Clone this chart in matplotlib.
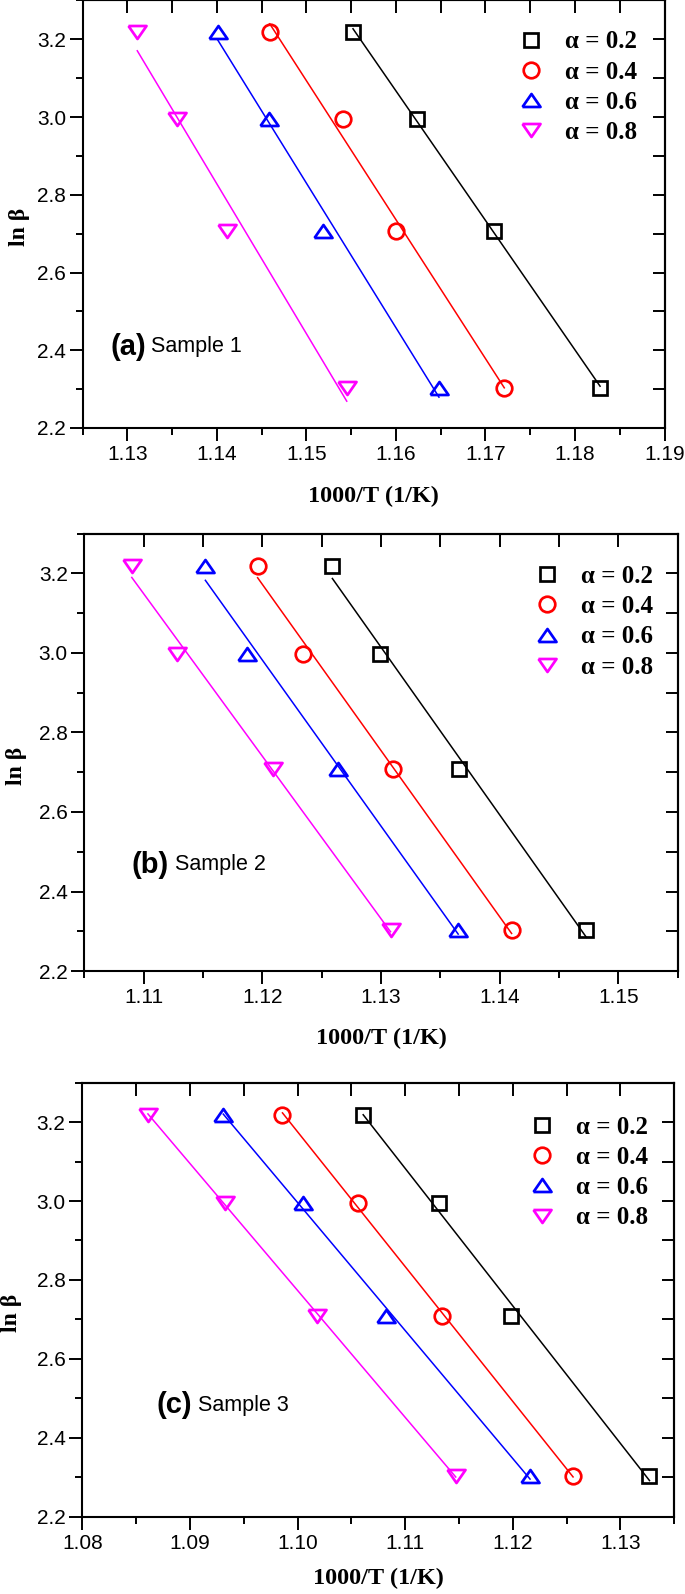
import numpy as np
import matplotlib
matplotlib.use("Agg")
import matplotlib.pyplot as plt
from matplotlib.ticker import MultipleLocator, FormatStrFormatter

# ln(beta) for the four heating rates (same for every sample)
ln_beta = [3.219, 2.996, 2.708, 2.303]

alpha_labels = ["\u03b1 = 0.2", "\u03b1 = 0.4", "\u03b1 = 0.6", "\u03b1 = 0.8"]

# 1000/T values, one list per conversion degree
s1_a02 = [1.1552, 1.1624, 1.1709, 1.1828]
s1_a04 = [1.1459, 1.1541, 1.1600, 1.1721]
s1_a06 = [1.1401, 1.1458, 1.1518, 1.1648]
s1_a08 = [1.1311, 1.1355, 1.1411, 1.1545]

s2_a02 = [1.1259, 1.1299, 1.1366, 1.1473]
s2_a04 = [1.1196, 1.1234, 1.1310, 1.1410]
s2_a06 = [1.1152, 1.1187, 1.1264, 1.1365]
s2_a08 = [1.1090, 1.1128, 1.1209, 1.1308]

s3_a02 = [1.1061, 1.1131, 1.1198, 1.1327]
s3_a04 = [1.0986, 1.1056, 1.1134, 1.1256]
s3_a06 = [1.0931, 1.1005, 1.1082, 1.1216]
s3_a08 = [1.0861, 1.0933, 1.1018, 1.1147]

panel_tags = ["(a)", "(b)", "(c)"]
sample_names = ["Sample 1", "Sample 2", "Sample 3"]
x_limits = [(1.125, 1.19), (1.105, 1.155), (1.08, 1.135)]

colors = ["black", "#ff0000", "#0000ff", "#ff00ff"]
# wide, flat triangles like the original
tri_up = [(-1, -0.72), (1, -0.72), (0, 0.72), (-1, -0.72)]
tri_down = [(-1, 0.72), (1, 0.72), (0, -0.72), (-1, 0.72)]
markers = ["s", "o", tri_up, tri_down]
msizes = [9.6, 11.2, 13.0, 13.0]

SERIF = "Liberation Serif"
SANS = "Liberation Sans"

fig = plt.figure(figsize=(6.85, 15.94), dpi=100)

# axes boxes in figure fractions [left, bottom, width, height]
boxes = [
    [0.1207, 0.7315, 0.8494, 0.2682],
    [0.1231, 0.3908, 0.8663, 0.2745],
    [0.1201, 0.0485, 0.8642, 0.2723],
]
tag_pos = [(0.047, 0.19), (0.079, 0.243), (0.126, 0.257)]
sample_pos = [(0.117, 0.19), (0.153, 0.243), (0.195, 0.257)]
legend_pos = [(0.749, 0.930), (0.7587, 0.9286), (0.7554, 0.924)]
ylabel_x = [-0.09, -0.097, -0.102]
xlabel_y = [-0.135, -0.13, -0.117]

all_series = [
    [s1_a02, s1_a04, s1_a06, s1_a08],
    [s2_a02, s2_a04, s2_a06, s2_a08],
    [s3_a02, s3_a04, s3_a06, s3_a08],
]

for i, series in enumerate(all_series):
    ax = fig.add_axes(boxes[i])

    for k, xs in enumerate(series):
        xs = np.array(xs)
        ys = np.array(ln_beta)
        # linear fit drawn between the outermost points
        slope, icpt = np.polyfit(xs, ys, 1)
        xf = np.array([xs.min(), xs.max()])
        ax.plot(xf, slope * xf + icpt, color=colors[k], lw=1.1, zorder=2)
        ax.plot(xs, ys, linestyle="none", marker=markers[k], ms=msizes[k],
                mfc="none", mec=colors[k], mew=1.95, label=alpha_labels[k], zorder=3)

    ax.set_xlim(*x_limits[i])
    ax.set_ylim(2.2, 3.3)

    ax.xaxis.set_major_locator(MultipleLocator(0.01))
    ax.xaxis.set_minor_locator(MultipleLocator(0.005))
    ax.yaxis.set_major_locator(MultipleLocator(0.2))
    ax.yaxis.set_minor_locator(MultipleLocator(0.1))
    ax.xaxis.set_major_formatter(FormatStrFormatter("%.2f"))
    ax.yaxis.set_major_formatter(FormatStrFormatter("%.1f"))

    ax.tick_params(which="major", direction="out", length=9.5, width=1.4,
                   labelsize=15, pad=3)
    ax.tick_params(which="minor", direction="out", length=5, width=1.4)
    ax.tick_params(axis="y", which="major", pad=2.5)
    for lab in ax.get_xticklabels() + ax.get_yticklabels():
        lab.set_family(SANS)

    # inner ticks on top and right, all the same length
    top = ax.secondary_xaxis("top")
    top.xaxis.set_major_locator(MultipleLocator(0.005))
    top.tick_params(direction="in", length=9, width=1.4, labeltop=False)
    right = ax.secondary_yaxis("right")
    right.yaxis.set_major_locator(MultipleLocator(0.1))
    right.tick_params(direction="in", length=9, width=1.4, labelright=False)

    for sp in list(ax.spines.values()) + [top.spines["top"], right.spines["right"]]:
        sp.set_linewidth(1.5)

    ax.set_xlabel("1000/T (1/K)", family=SERIF, fontweight="bold", fontsize=17.5)
    ax.xaxis.set_label_coords(0.5, xlabel_y[i])
    ax.set_ylabel("ln \u03b2", family=SERIF, fontweight="bold", fontsize=17)
    ax.yaxis.set_label_coords(ylabel_x[i], 0.47)

    ax.text(*tag_pos[i], panel_tags[i], transform=ax.transAxes, family=SANS,
            fontweight="bold", fontsize=21, va="center", ha="left")
    ax.text(*sample_pos[i], sample_names[i], transform=ax.transAxes, family=SANS,
            fontsize=15.5, va="center", ha="left")

    ax.legend(loc="upper left", bbox_to_anchor=legend_pos[i], frameon=False,
              borderpad=0, borderaxespad=0, handlelength=1.0, handletextpad=0.86,
              labelspacing=0.29, numpoints=1,
              prop={"family": SERIF, "weight": "bold", "size": 18})

fig.savefig("out.png", dpi=100)
